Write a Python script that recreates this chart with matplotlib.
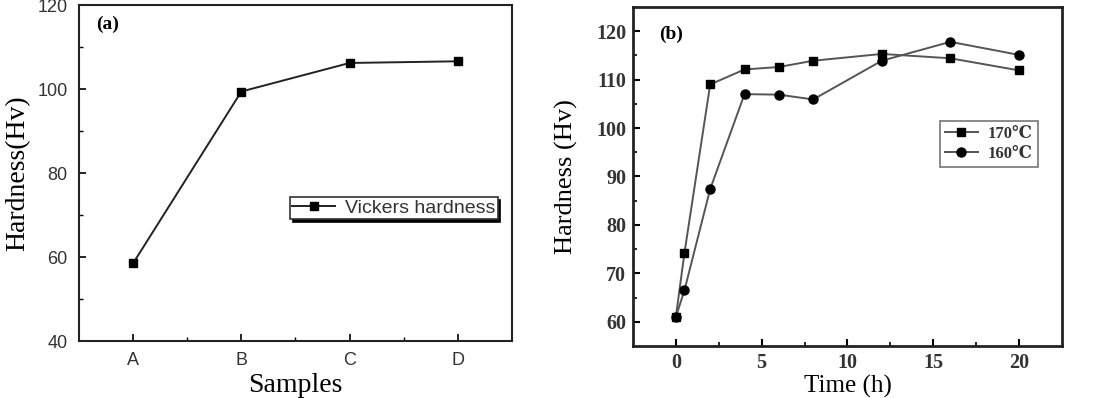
import matplotlib.pyplot as plt
import numpy as np

# (a) samples
samples = ['A', 'B', 'C', 'D']
vickers = [58.5, 99.4, 106.2, 106.6]

# (b) aging time
time_h = [0, 0.5, 2, 4, 6, 8, 12, 16, 20]
hv_170 = [61.0, 74.2, 109.0, 112.1, 112.6, 113.9, 115.3, 114.4, 111.9]
hv_160 = [61.0, 66.5, 87.4, 107.0, 106.9, 105.9, 113.9, 117.8, 115.1]

serif = ['Liberation Serif', 'DejaVu Serif']
sans = ['Liberation Sans', 'DejaVu Sans']

fig = plt.figure(figsize=(11.06, 3.98), dpi=100)

# ---------- (a) ----------
ax1 = fig.add_axes([0.0714, 0.1432, 0.3915, 0.8442])
x1 = np.arange(len(samples))
ax1.plot(x1, vickers, color='#222222', lw=1.4, marker='s', ms=6,
         mfc='black', mec='black', label='Vickers hardness')
ax1.set_xlim(-0.5, 3.5)
ax1.set_ylim(40, 120)
ax1.set_xticks(x1)
ax1.set_xticklabels(samples)
ax1.set_xticks(x1[:-1] + 0.5, minor=True)
ax1.set_yticks([40, 60, 80, 100, 120])
ax1.set_yticks([50, 70, 90, 110], minor=True)
ax1.tick_params(which='both', direction='in', top=False, right=False)
ax1.tick_params(which='major', length=5, width=1.2, labelsize=13, pad=8)
ax1.tick_params(which='minor', length=3, width=1.0)
for lab in ax1.get_xticklabels() + ax1.get_yticklabels():
    lab.set_family(sans)
    lab.set_color('#333333')
for sp in ax1.spines.values():
    sp.set_linewidth(1.5)
    sp.set_color('#222222')
ax1.set_ylabel('Hardness(Hv)', family=serif, fontsize=20)
ax1.yaxis.set_label_coords(-0.112, 0.5)
ax1.set_xlabel('Samples', family=serif, fontsize=20)
ax1.xaxis.set_label_coords(0.5, -0.095)
ax1.text(0.04, 0.93, '(a)', transform=ax1.transAxes, family=serif,
         fontweight='bold', fontsize=14)
leg1 = ax1.legend(loc='center', bbox_to_anchor=(0.727, 0.395), fancybox=False,
                  shadow={'color': 'black', 'alpha': 1.0}, framealpha=1,
                  edgecolor='#333333', prop={'family': sans, 'size': 14},
                  handlelength=2.2, handletextpad=0.5, borderpad=0.12,
                  borderaxespad=0)
leg1.get_frame().set_linewidth(1.2)
for t in leg1.get_texts():
    t.set_color('#333333')

# ---------- (b) ----------
ax2 = fig.add_axes([0.5723, 0.1307, 0.3879, 0.8518])
ax2.plot(time_h, hv_170, color='#555555', lw=1.4, marker='s', ms=6,
         mfc='black', mec='black', label='170\u2103')
ax2.plot(time_h, hv_160, color='#555555', lw=1.4, marker='o', ms=6.5,
         mfc='black', mec='black', label='160\u2103')
ax2.set_xlim(-2.5, 22.5)
ax2.set_ylim(55, 125)
ax2.set_xticks([0, 5, 10, 15, 20])
ax2.set_xticks([2.5, 7.5, 12.5, 17.5], minor=True)
ax2.set_yticks([60, 70, 80, 90, 100, 110, 120])
ax2.set_yticks([65, 75, 85, 95, 105, 115], minor=True)
ax2.tick_params(which='both', direction='in', top=False, right=False)
ax2.tick_params(which='major', length=5, width=1.5, labelsize=14.5, pad=5)
ax2.tick_params(which='minor', length=3, width=1.2)
for lab in ax2.get_xticklabels() + ax2.get_yticklabels():
    lab.set_family(serif)
    lab.set_fontweight('bold')
    lab.set_color('#333333')
for sp in ax2.spines.values():
    sp.set_linewidth(2.0)
    sp.set_color('#222222')
ax2.set_ylabel('Hardness (Hv)', family=serif, fontsize=19)
ax2.yaxis.set_label_coords(-0.128, 0.5)
ax2.set_xlabel('Time (h)', family=serif, fontsize=18)
ax2.xaxis.set_label_coords(0.5, -0.085)
ax2.text(0.06, 0.905, '(b)', transform=ax2.transAxes, family=serif,
         fontweight='bold', fontsize=14)
leg2 = ax2.legend(loc='center', bbox_to_anchor=(0.829, 0.596), fancybox=False,
                  framealpha=1, edgecolor='#777777',
                  prop={'family': serif, 'size': 12, 'weight': 'bold'},
                  handlelength=2.0, handletextpad=0.6, borderpad=0.3,
                  labelspacing=0.25, borderaxespad=0)
leg2.get_frame().set_linewidth(1.2)
for t in leg2.get_texts():
    t.set_color('#333333')

fig.savefig('out.png', dpi=100)
